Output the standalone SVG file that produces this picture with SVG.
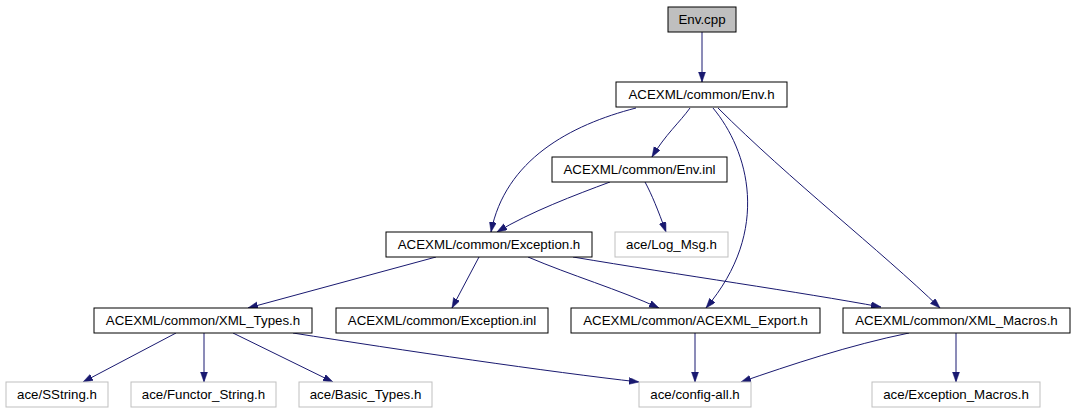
<svg xmlns="http://www.w3.org/2000/svg" width="1075" height="411" viewBox="0 0 1075 411">
<style>
.n rect{fill:#fff;stroke:#000;stroke-width:1}
.g rect{fill:#fff;stroke:#bfbfbf;stroke-width:1}
.r rect{fill:#bfbfbf;stroke:#000;stroke-width:1}
text{font-family:"Liberation Sans",Arial,sans-serif;font-size:13.3px;fill:#000;text-anchor:middle}
#edges path{fill:none;stroke:#191970;stroke-width:1;marker-end:url(#ah)}
</style>
<defs>
<marker id="ah" markerUnits="userSpaceOnUse" markerWidth="11" markerHeight="8" refX="10" refY="3.5" orient="auto">
<path d="M0,0 L10,3.5 L0,7 z" fill="#191970" stroke="#191970" stroke-width="0.5"/>
</marker>
</defs>
<rect width="1075" height="411" fill="#fff"/>
<g id="edges">
<path d="M702,32 L702,82"/>
<path d="M636,108 C570,125 505,160 491,232"/>
<path d="M690,108 C680,122 665,135 652,157"/>
<path d="M713,108 C748,150 772,230 706,308"/>
<path d="M718,108 C790,180 880,250 940,308"/>
<path d="M610,182 C575,195 530,212 497,232"/>
<path d="M645,182 C652,195 658,210 666,232"/>
<path d="M436,257 L248,308"/>
<path d="M479,257 L452,308"/>
<path d="M528,257 C570,275 620,290 659,308"/>
<path d="M573,257 C680,275 800,292 881,307"/>
<path d="M176,333 L83,382"/>
<path d="M204,333 L204,382"/>
<path d="M233,333 L333,382"/>
<path d="M293,333 C400,350 550,372 639,382"/>
<path d="M695,333 L695,382"/>
<path d="M909,333 C850,345 790,365 741,382"/>
<path d="M956,333 L956,382"/>
</g>
<g id="n_env_cpp" class="r"><rect x="668" y="7" width="68" height="25"/><text x="702" y="24">Env.cpp</text></g>
<g id="n_env_h" class="n"><rect x="616" y="82" width="171" height="25"/><text x="701.5" y="99">ACEXML/common/Env.h</text></g>
<g id="n_env_inl" class="n"><rect x="552" y="157" width="175" height="25"/><text x="639.5" y="174">ACEXML/common/Env.inl</text></g>
<g id="n_exception_h" class="n"><rect x="386" y="232" width="206" height="25"/><text x="489" y="249">ACEXML/common/Exception.h</text></g>
<g id="n_log_msg" class="g"><rect x="615" y="232" width="113" height="25"/><text x="671.5" y="249">ace/Log_Msg.h</text></g>
<g id="n_xml_types" class="n"><rect x="94" y="308" width="218" height="25"/><text x="203" y="325">ACEXML/common/XML_Types.h</text></g>
<g id="n_exception_inl" class="n"><rect x="336" y="308" width="212" height="25"/><text x="442" y="325">ACEXML/common/Exception.inl</text></g>
<g id="n_export" class="n"><rect x="571" y="308" width="249" height="25"/><text x="695.5" y="325">ACEXML/common/ACEXML_Export.h</text></g>
<g id="n_xml_macros" class="n"><rect x="843" y="308" width="227" height="25"/><text x="956.5" y="325">ACEXML/common/XML_Macros.h</text></g>
<g id="n_sstring" class="g"><rect x="6" y="382" width="102" height="25"/><text x="57" y="399">ace/SString.h</text></g>
<g id="n_functor" class="g"><rect x="131" y="382" width="145" height="25"/><text x="203.5" y="399">ace/Functor_String.h</text></g>
<g id="n_basic" class="g"><rect x="299" y="382" width="133" height="25"/><text x="365.5" y="399">ace/Basic_Types.h</text></g>
<g id="n_config" class="g"><rect x="639" y="382" width="112" height="25"/><text x="695" y="399">ace/config-all.h</text></g>
<g id="n_exc_macros" class="g"><rect x="872" y="382" width="168" height="25"/><text x="956" y="399">ace/Exception_Macros.h</text></g>
</svg>
